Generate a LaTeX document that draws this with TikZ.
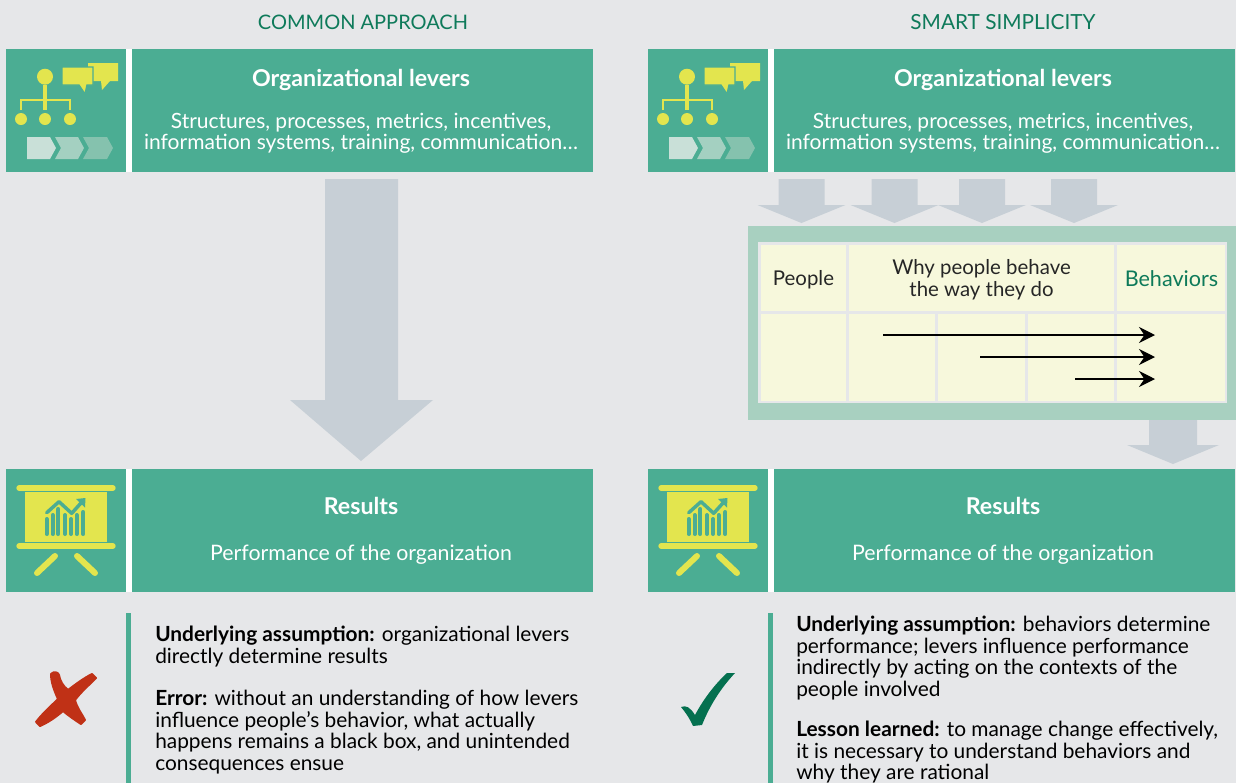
\documentclass[tikz,border=0pt]{standalone}
\usepackage{fontspec}
\setmainfont{Lato}
\definecolor{bgc}{HTML}{E6E7E9}
\definecolor{teal}{HTML}{4BAD93}
\definecolor{yel}{HTML}{E3E54E}
\definecolor{arr}{HTML}{C7CFD6}
\definecolor{frame}{HTML}{A8D0C0}
\definecolor{cellc}{HTML}{F7F8DC}
\definecolor{dkgreen}{HTML}{0E7A5A}
\definecolor{redx}{HTML}{C03116}
\definecolor{chk}{HTML}{04704F}
\definecolor{chevA}{HTML}{C9E0D8}
\definecolor{chevB}{HTML}{A4D0C1}
\definecolor{chevC}{HTML}{85C2AE}
\tikzset{
  x=0.75pt,y=-0.75pt,
  title/.style={text=dkgreen,font=\fontsize{15}{17}\selectfont,inner sep=0pt,anchor=center},
  head/.style={text=white,font=\fontsize{17.4}{20}\bfseries\selectfont,inner sep=0pt,anchor=center},
  sub/.style={text=white,font=\fontsize{15.75}{15.9}\selectfont,inner sep=0pt,anchor=center,align=center},
  perfstyle/.style={text=white,font=\fontsize{16}{18}\selectfont,inner sep=0pt,anchor=center},
  body/.style={text=black,font=\fontsize{15.65}{16.1}\selectfont,inner sep=0pt,anchor=north west,align=left},
  celltext/.style={text=black!85,font=\fontsize{15.3}{16.5}\selectfont,inner sep=0pt,anchor=center,align=center},
  blockarr/.style={fill=arr,draw=none},
  box/.style={fill=teal,draw=none},
  cellb/.style={fill=cellc,draw=none},
  ylw/.style={draw=yel,line cap=round},
  flow/.style={draw=black,line width=0.9pt,-{Stealth[length=12pt,width=12pt,inset=4pt]}},
}
\usetikzlibrary{arrows.meta}
\newcommand{\panelbase}[2]{%
  \begin{scope}[xshift=#2*0.75pt]
  % top box
  \fill[box] (6,49) rectangle (593,172);
  \fill[white] (126,49) rectangle (132,172);
  \fill[yel] (45,76.7) circle (8);
  \draw[ylw,line width=2.4pt,line cap=butt] (45,85) -- (45,110);
  \draw[ylw,line width=2.2pt,line cap=butt] (21,110) -- (21,100) -- (70,100) -- (70,110);
  \fill[yel] (21,119) circle (6) (45,119) circle (6) (70,119) circle (6);
  \fill[yel] (88,63) -- (118,63) -- (118,81) -- (110,81) -- (102,90) -- (101,81) -- (88,81) -- cycle;
  \draw[teal,line width=1pt,fill=yel] (62,67) -- (93,67) -- (93,85) -- (87,85) -- (85,94) -- (79,85) -- (62,85) -- cycle;
  \fill[chevC] (83,137) -- (107,137) -- (113,148) -- (107,159) -- (83,159) -- (89,148) -- cycle;
  \fill[chevB] (55,137) -- (78,137) -- (84,148) -- (78,159) -- (55,159) -- (61,148) -- cycle;
  \fill[chevA] (27,137) -- (50,137) -- (56,148) -- (50,159) -- (27,159) -- cycle;
  \node[head] (#1lev) at (361,79.5) {Organizational levers};
  \node[sub] (#1levs) at (361,133) {Structures, processes, metrics, incentives,\\information systems, training, communication…};
  % bottom box
  \fill[box] (6,469) rectangle (593,592);
  \fill[white] (126,469) rectangle (132,592);
  \draw[ylw,line width=4pt] (19,488) -- (113,488);
  \fill[yel] (25,492) rectangle (107,542);
  \draw[ylw,line width=4pt] (19,546) -- (113,546);
  \draw[ylw,line width=4.5pt] (37,573) -- (55,556);
  \draw[ylw,line width=4.5pt] (77,556) -- (95,573);
  \foreach \px/\py in {46.7/519,52.7/515,58.3/509,65/515,71/519,76.7/515,83.3/512}
    \draw[teal,line width=3pt,line cap=round] (\px,\py) -- (\px,534);
  \draw[teal,line width=2.6pt,line join=round,line cap=round] (46.7,512.7) -- (59,501.7) -- (71.7,513.3) -- (81,503);
  \fill[teal] (76,499) -- (85.5,498) -- (85,507.5) -- cycle;
  \node[head] (#1res) at (361,506) {Results};
  \node[perfstyle] (#1perf) at (361,555) {Performance of the organization};
  % side rule
  \fill[teal] (126,613) rectangle (131,783);
  \end{scope}}
\begin{document}
\begin{tikzpicture}
\useasboundingbox (0,0) rectangle (1236,783);
\fill[bgc] (0,0) rectangle (1236,783);
\node[title] (tl) at (363,22) {COMMON APPROACH};
\node[title,font=\fontsize{15.6}{17}\selectfont] (tr) at (1003,22) {SMART SIMPLICITY};
\panelbase{l}{0}
\panelbase{r}{642}
% big arrow
\fill[blockarr] (325,179) -- (398,179) -- (398,400) -- (433,400) -- (361,461) -- (290,400) -- (325,400) -- cycle;
% small arrows
\foreach \c in {801.5,894.5,982,1074}
  \fill[blockarr] (\c-23,179) -- (\c+23,179) -- (\c+23,205) -- (\c+44,205) -- (\c,223) -- (\c-44,205) -- (\c-23,205) -- cycle;
\fill[blockarr] (1149,420) -- (1197,420) -- (1197,445) -- (1219,445) -- (1173,464) -- (1127,445) -- (1149,445) -- cycle;
% table
\fill[frame] (748,226) rectangle (1236,420);
\fill[bgc] (758,242) rectangle (1227,403);
\fill[cellb] (761,245) rectangle (846,311);
\fill[cellb] (849,245) rectangle (1114,311);
\fill[cellb] (1117,245) rectangle (1225,311);
\fill[cellb] (761,314) rectangle (846,401);
\fill[cellb] (849,314) rectangle (935,401);
\fill[cellb] (938,314) rectangle (1025,401);
\fill[cellb] (1028,314) rectangle (1114,401);
\fill[cellb] (1117,314) rectangle (1225,401);
\node[celltext] (people) at (803.5,279.5) {People};
\node[celltext] (why) at (981.5,280) {Why people behave\\the way they do};
\node[celltext,text=dkgreen,font=\fontsize{16.2}{18}\selectfont] (beh) at (1171.5,279) {Behaviors};
\coordinate (a1s) at (883,335); \coordinate (a1e) at (1155,335);
\coordinate (a2s) at (980,357); \coordinate (a2e) at (1155,357);
\coordinate (a3s) at (1075,379); \coordinate (a3e) at (1155,379);
\draw[flow] (a1s) -- (a1e);
\draw[flow] (a2s) -- (a2e);
\draw[flow] (a3s) -- (a3e);
% cross
\fill[redx,draw=redx,line width=1.5pt,line join=round]
  (51,674) .. controls (54,671) and (58,672) .. (59,675) .. controls (60,681) and (63,686) .. (68,690)
  .. controls (76,684) and (84,678) .. (92,674) -- (96,678) .. controls (88,686) and (81,692) .. (75,700)
  .. controls (77,708) and (82,714) .. (85,720) -- (81,724) .. controls (75,720) and (69,716) .. (63,711)
  .. controls (56,717) and (49,722) .. (40,726) -- (36,722) .. controls (42,714) and (50,707) .. (58,699)
  .. controls (54,690) and (51,682) .. (51,674) -- cycle;
% check
\fill[chk] (681,707) .. controls (686,705) and (690,707) .. (695,715)
  .. controls (703,700) and (714,685) .. (727,673) -- (735,673)
  .. controls (721,688) and (710,705) .. (702,725) -- (693,726)
  .. controls (690,719) and (686,713) .. (681,707) -- cycle;
% body text
\node[body] (t1) at (155,626) {\textbf{Underlying assumption:} organizational levers\\directly determine results};
\node[body] (t2) at (155,690) {\textbf{Error:} without an understanding of how levers\\influence people’s behavior, what actually\\happens remains a black box, and unintended\\consequences ensue};
\node[body] (t3) at (796,616) {\textbf{Underlying assumption:} behaviors determine\\performance; levers influence performance\\indirectly by acting on the contexts of the\\people involved};
\node[body] (t4) at (796,721) {\textbf{Lesson learned:} to manage change effectively,\\it is necessary to understand behaviors and\\why they are rational};
\end{tikzpicture}
\end{document}
